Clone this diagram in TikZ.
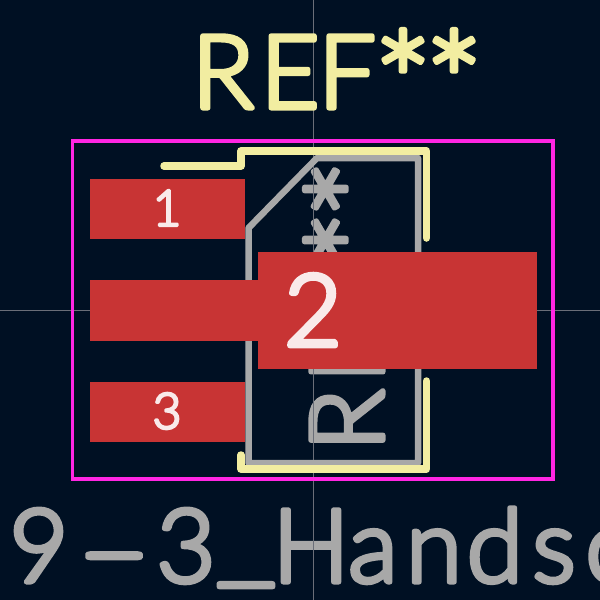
\documentclass[tikz,border=0pt]{standalone}
\usepackage{fontspec}
\usepackage{graphicx}
\setmainfont{Lato Light}
\definecolor{bgc}{HTML}{001023}
\definecolor{padc}{HTML}{C83434}
\definecolor{silkc}{HTML}{F2EDA1}
\definecolor{fabc}{HTML}{A8A8A8}
\definecolor{crtc}{HTML}{FF26E2}
\definecolor{axisc}{HTML}{6A6E78}
\definecolor{numc}{HTML}{F9EAEA}
% glyph centred on the pen, pen then moves by #1 pt
\newcommand{\gl}[2]{\makebox[0pt]{#2}\kern#1pt\relax}
% stroked, round-joined text
\newcommand{\strk}[2]{\special{pdf:code 2 Tr #1 w 1 j 1 J}#2\special{pdf:code 0 Tr}}
\newcommand{\bigast}{\raisebox{-26pt}{\fontsize{140}{140}\selectfont *}}
\newcommand{\refstr}{\gl{67}{R}\gl{60}{E}\gl{53}{\hspace{-6pt}F}\gl{51}{\bigast}\gl{0}{\bigast}}
\tikzset{
  txt/.style={inner sep=0pt,outer sep=0pt,anchor=base west},
  big/.style={txt,font=\fontsize{102}{102}\selectfont},
  padbox/.style={fill=padc,draw=none},
  silk/.style={draw=silkc,line width=7.5pt,line cap=round,line join=round},
  fab/.style={draw=fabc,line width=6.5pt,line join=round},
  crt/.style={draw=crtc,line width=3.4pt},
  axisl/.style={draw=axisc,line width=0.8pt},
  num/.style={inner sep=0pt,outer sep=0pt,text=numc}
}
\begin{document}
\begin{tikzpicture}[x=1pt,y=-1pt]
\useasboundingbox (0,0) rectangle (600,600);
\clip (0,0) rectangle (600,600);
\fill[bgc] (0,0) rectangle (600,600);
% bottom value text
\node[big,text=fabc] (value) at (39,582) {\strk{5}{\gl{75}{9}\gl{72}{\raisebox{-4pt}{\scalebox{2}[1]{-}}}\gl{60}{3}\gl{65}{\raisebox{9pt}{\scalebox{1.3}[1]{\_}}}\gl{62}{H}\gl{61}{a}\gl{61}{n}\gl{59}{d}\gl{60}{s}\gl{0}{o}}};
% rotated reference on fab layer
\node[big,text=fabc,rotate=90] (fabref) at (383,420) {\strk{5}{\refstr}};
% axes
\coordinate (axT) at (313.5,0); \coordinate (axB) at (313.5,600);
\coordinate (axL) at (0,310.5); \coordinate (axR) at (600,310.5);
\draw[axisl] (axT) -- (axB);
\draw[axisl] (axL) -- (axR);
% fab outline
\draw[fab] (248.5,228) -- (317,158) -- (418,158) -- (418,463) -- (248.5,463) -- cycle;
% courtyard
\draw[crt] (72.5,141) rectangle (553,479);
% silkscreen
\draw[silk] (164,166) -- (241,166) -- (241,151) -- (426.5,151) -- (426.5,238);
\draw[silk] (241,455) -- (241,469) -- (426.5,469) -- (426.5,381);
% pads
\fill[padbox] (90,179) rectangle (245,239);
\fill[padbox] (90,382) rectangle (245,442);
\fill[padbox] (90,280) rectangle (258,341);
\fill[padbox] (258,252) rectangle (537,369);
% labels
\node[num,font=\fontsize{50}{50}\selectfont] (p1) at (167,208) {\strk{2.5}{1}};
\node[num,font=\fontsize{50}{50}\selectfont] (p3) at (167,411) {\strk{2.5}{3}};
\node[num,font=\fontsize{100}{100}\selectfont] (p2) at (313,310) {\strk{5}{2}};
% top reference
\node[big,text=silkc] (ref) at (223,108) {\strk{5}{\refstr}};
\end{tikzpicture}
\end{document}
